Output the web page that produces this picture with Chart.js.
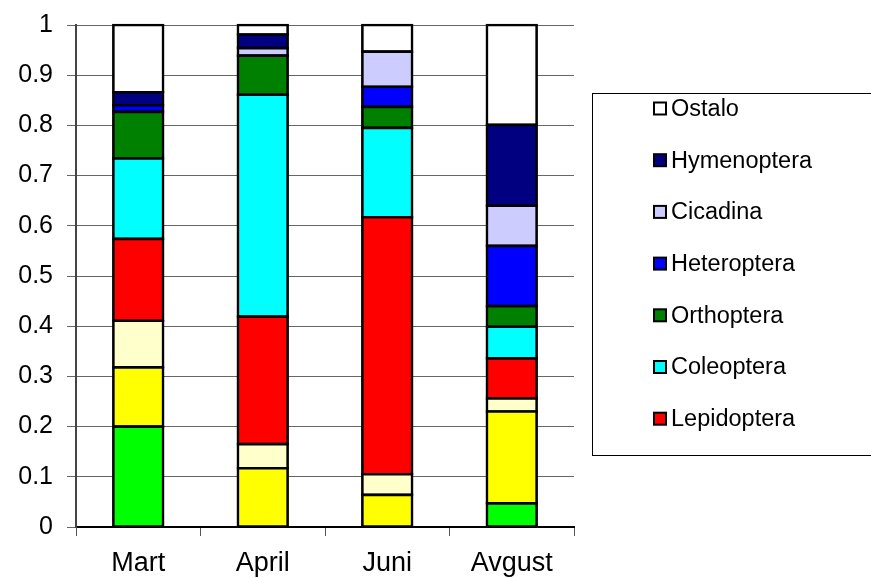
<!DOCTYPE html>
<html>
<head>
<meta charset="utf-8">
<script src="https://cdn.jsdelivr.net/npm/chart.js@4.4.1/dist/chart.umd.min.js"></script>
<style>
  html, body { margin: 0; padding: 0; background: #fff; }
  #wrap { width: 871px; height: 578px; }
</style>
</head>
<body>
<div id="wrap"><canvas id="chart" width="871" height="578"></canvas></div>
<script>
const months = ["Mart", "April", "Juni", "Avgust"];
const yTicks = [0, 0.1, 0.2, 0.3, 0.4, 0.5, 0.6, 0.7, 0.8, 0.9, 1];

// shares per month, bottom to top (null = no segment)
const grupaA      = [0.200, null,  null,  0.047];
const grupaB      = [0.118, 0.117, 0.064, 0.183];
const grupaC      = [0.093, 0.048, 0.041, 0.026];
const lepidoptera = [0.163, 0.254, 0.512, 0.080];
const coleoptera  = [0.160, 0.442, 0.178, 0.063];
const orthoptera  = [0.093, 0.078, 0.042, 0.041];
const heteroptera = [0.013, null,  0.040, 0.120];
const cicadina    = [null,  0.015, 0.070, 0.080];
const hymenoptera = [0.026, 0.027, null,  0.161];
const ostalo      = [0.134, 0.019, 0.053, 0.199];

const seriesNames = ["Grupa A", "Grupa B", "Grupa C", "Lepidoptera", "Coleoptera",
  "Orthoptera", "Heteroptera", "Cicadina", "Hymenoptera", "Ostalo"];
const seriesData = [grupaA, grupaB, grupaC, lepidoptera, coleoptera,
  orthoptera, heteroptera, cicadina, hymenoptera, ostalo];
const seriesColors = ["#00ff00", "#ffff00", "#ffffcc", "#ff0000", "#00ffff",
  "#008000", "#0000ff", "#ccccff", "#000080", "#ffffff"];
// only the upper seven show up in the legend
const legendCount = 7;

const FONT = "Liberation Sans, Arial, sans-serif";

// border pushed half outward so the outline is centred on the edge
const datasets = seriesNames.map((name, i) => ({
  label: name,
  data: seriesData[i],
  backgroundColor: seriesColors[i],
  borderColor: "#000",
  borderWidth: 2.6,
  inflateAmount: 1.3,
  borderSkipped: false,
  barPercentage: 0.4,
  categoryPercentage: 1.0,
  clip: false,
}));

// legend drawn by hand so the box matches the original
const boxLegend = {
  id: "boxLegend",
  afterDraw(chart) {
    const ctx = chart.ctx;
    ctx.save();
    ctx.strokeStyle = "#000";
    ctx.lineWidth = 1;
    ctx.strokeRect(592.5, 93.5, 300, 362);
    const ds = chart.data.datasets;
    const start = ds.length - 1;
    ctx.font = "23.5px " + FONT;
    ctx.textBaseline = "middle";
    ctx.textAlign = "left";
    for (let k = 0; k < legendCount; k++) {
      const d = ds[start - k];
      const cy = 108.5 + k * 51.7;
      ctx.fillStyle = d.backgroundColor;
      ctx.fillRect(654, cy - 6, 12, 12);
      ctx.lineWidth = 2;
      ctx.strokeStyle = "#000";
      ctx.strokeRect(654, cy - 6, 12, 12);
      ctx.fillStyle = "#000";
      ctx.fillText(d.label, 671, cy + 1);
    }
    ctx.restore();
  },
};

new Chart(document.getElementById("chart"), {
  type: "bar",
  data: { labels: months, datasets: datasets },
  options: {
    responsive: false,
    animation: false,
    layout: { padding: { top: 25, right: 297, left: 0, bottom: 0 } },
    plugins: {
      legend: { display: false },
      tooltip: { enabled: false },
    },
    scales: {
      x: {
        stacked: true,
        offset: true,
        grid: {
          display: true,
          offset: true,
          drawOnChartArea: false,
          drawTicks: true,
          tickLength: 9,
          color: "#555",
        },
        border: { display: true, color: "#000", width: 2 },
        ticks: { color: "#000", font: { family: FONT, size: 27 }, padding: 11 },
        afterFit(scale) {
          scale.height = 51;
          scale.paddingLeft = 0;
          scale.paddingRight = 0;
        },
      },
      y: {
        stacked: true,
        min: 0,
        max: 1,
        afterBuildTicks(scale) {
          scale.ticks = yTicks.map((v) => ({ value: v }));
        },
        grid: {
          color: "#666",
          lineWidth: 1,
          tickLength: 9,
        },
        border: { display: true, color: "#444", width: 2 },
        ticks: {
          color: "#000",
          font: { family: FONT, size: 25, lineHeight: 1 },
          padding: 14,
          callback: (v) => String(Math.round(v * 10) / 10),
        },
        afterFit(scale) {
          scale.width = 76;
          scale.paddingTop = 0;
          scale.paddingBottom = 0;
        },
      },
    },
  },
  plugins: [boxLegend],
});
</script>
</body>
</html>
